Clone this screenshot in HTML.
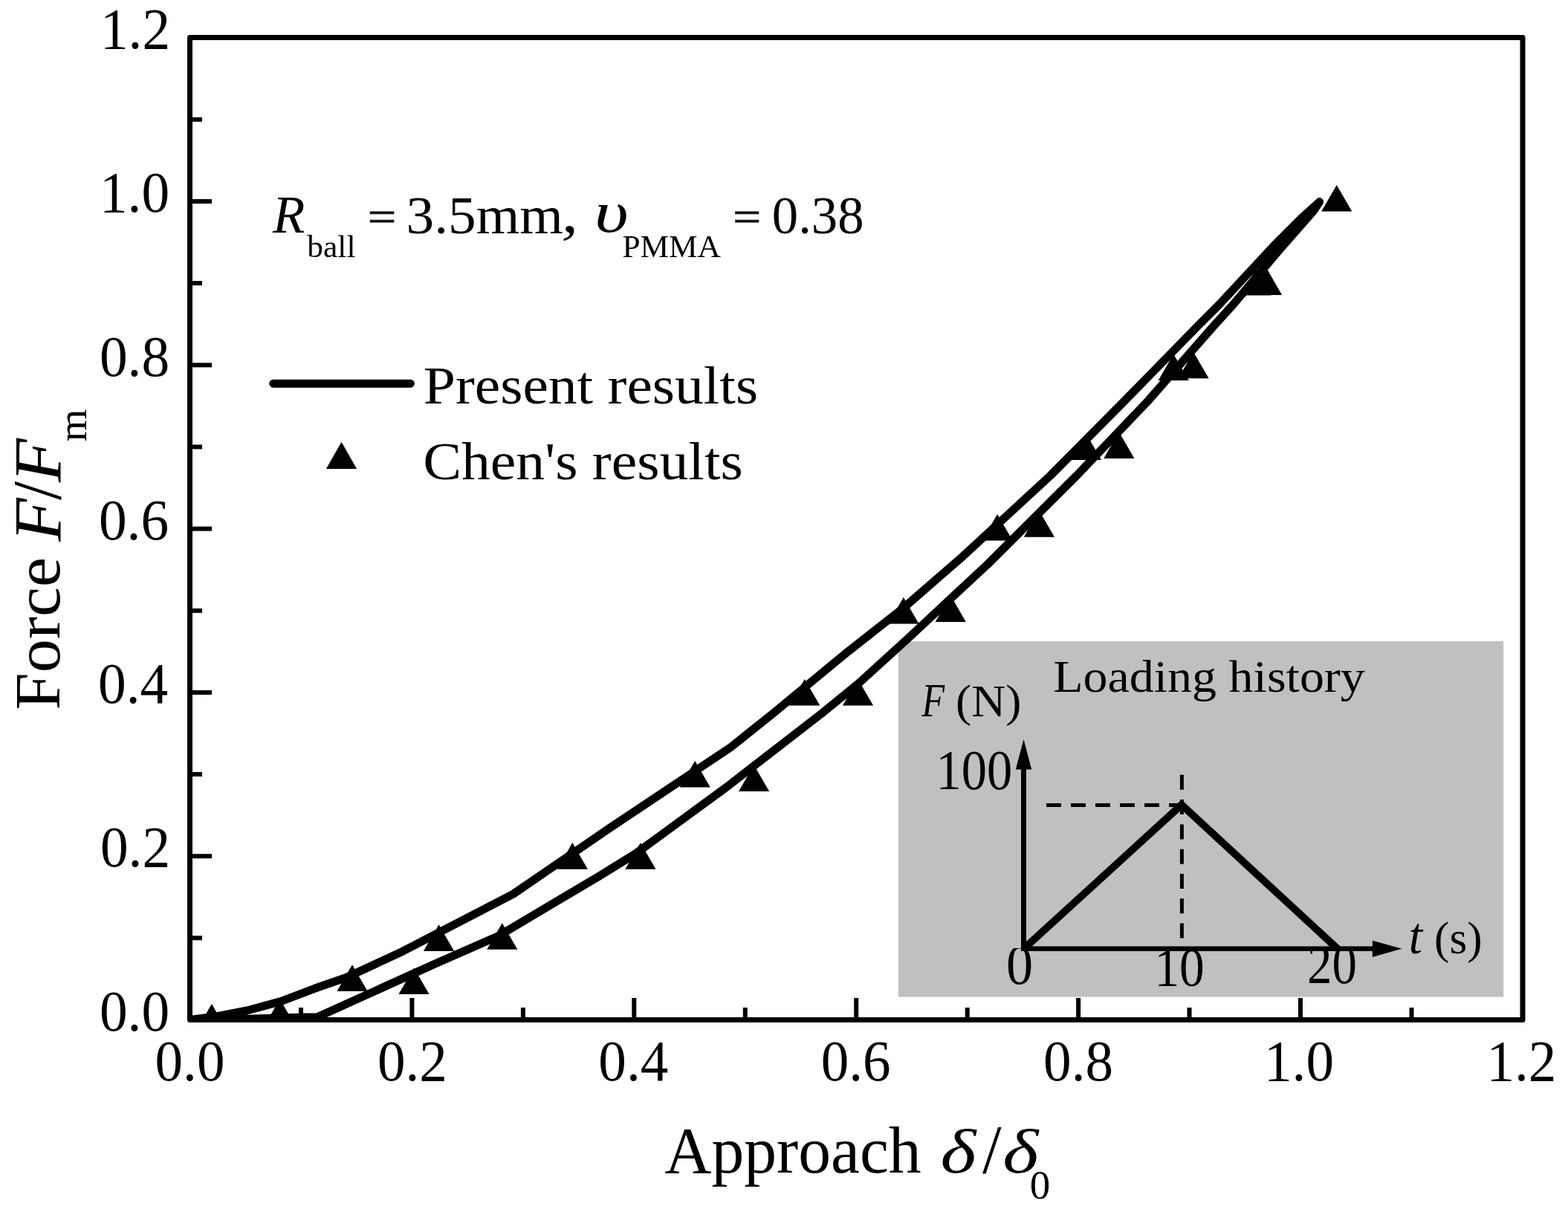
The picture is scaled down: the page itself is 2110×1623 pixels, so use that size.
<!DOCTYPE html>
<html><head><meta charset="utf-8"><title>Force vs Approach</title>
<style>html,body{margin:0;padding:0;background:#fff;}svg{display:block;}
text{font-family:"Liberation Serif", serif;fill:#000;}</style></head>
<body><svg width="2110" height="1623" viewBox="0 0 2110 1623">
<rect width="2110" height="1623" fill="#fff"/>
<rect x="1208.8" y="863" width="814.4" height="478.6" fill="#c0c0c0"/>
<defs><clipPath id="lc"><rect x="1200" y="1276" width="800" height="100"/></clipPath></defs><g clip-path="url(#lc)"><g transform="matrix(1.00333,0,0,1.04468,952.66,487.86)"><text x="400" y="800" font-size="72">0</text></g>
<g transform="matrix(0.93651,0,0,1.04255,1178.78,492.56)"><text x="400" y="800" font-size="72">10</text></g>
<g transform="matrix(0.93030,0,0,1.04255,1386.99,489.36)"><text x="400" y="800" font-size="72">20</text></g></g>
<g stroke="#000" fill="none">
<line x1="1408" y1="1083.5" x2="1590" y2="1083.5" stroke-width="5" stroke-dasharray="20 13"/>
<line x1="1590.4" y1="1042.8" x2="1590.4" y2="1277" stroke-width="5" stroke-dasharray="20 13.3"/>
<line x1="1377.5" y1="1035" x2="1377.5" y2="1280" stroke-width="7"/>
<line x1="1374" y1="1276.8" x2="1848" y2="1276.8" stroke-width="6.4"/>
<polyline points="1377.5,1277 1590,1083 1800,1277" stroke-width="10" stroke-linejoin="miter"/>
</g>
<polygon points="1377.5,995 1366.8,1035.5 1388.2,1035.5" fill="#000"/>
<polygon points="1886.5,1276.8 1846.8,1265.7 1846.8,1287.9" fill="#000"/>
<defs><clipPath id="pc"><rect x="255.5" y="50.5" width="1793.5" height="1322"/></clipPath></defs>
<g clip-path="url(#pc)">
<polyline points="255.5,1372.6 292.6,1367.6 332.4,1360.0 377.9,1347.6 423.4,1330.3 466.0,1315.5 542.0,1280.2 690.7,1203.1 820.0,1114.6 983.5,1005.5 1040.4,960.0 1141.5,876.6 1216.0,818.0 1295.0,749.3 1413.5,640.0 1512.8,540.0 1611.0,439.5 1640.5,410.0 1714.0,331.0 1751.0,293.9 1775.5,271.8" fill="none" stroke="#000" stroke-width="11" stroke-linejoin="round" stroke-linecap="round"/>
<polyline points="290.0,1372.5 400.0,1369.3 427.0,1368.8 584.5,1297.5 670.5,1259.7 804.8,1180.0 855.0,1149.0 899.0,1116.9 976.7,1060.0 1105.9,960.0 1155.0,920.0 1221.5,859.5 1328.4,760.0 1448.9,640.0 1544.4,540.0 1632.5,439.5 1659.3,410.0 1722.7,335.0 1745.0,309.7 1768.5,282.6 1775.5,271.8" fill="none" stroke="#000" stroke-width="11" stroke-linejoin="round" stroke-linecap="round"/>
<g fill="#000"><polygon points="284.9,1351.0 264.3,1386.6 305.5,1386.6"/><polygon points="474.0,1298.3 453.4,1333.9 494.6,1333.9"/><polygon points="590.5,1244.3 569.9,1279.9 611.1,1279.9"/><polygon points="770.3,1134.1 749.7,1169.7 790.9,1169.7"/><polygon points="935.2,1024.0 914.6,1059.6 955.8,1059.6"/><polygon points="1082.8,914.0 1062.2,949.6 1103.4,949.6"/><polygon points="1215.9,803.8 1195.3,839.4 1236.5,839.4"/><polygon points="1342.1,692.0 1321.5,727.6 1362.7,727.6"/><polygon points="1461.5,583.4 1440.9,619.0 1482.1,619.0"/><polygon points="1579.2,476.5 1558.6,512.1 1599.8,512.1"/><polygon points="1690.0,362.0 1669.4,397.6 1710.6,397.6"/><polygon points="1798.7,249.0 1778.1,284.6 1819.3,284.6"/><polygon points="376.6,1344.4 356.0,1380.0 397.2,1380.0"/><polygon points="557.0,1302.4 536.4,1338.0 577.6,1338.0"/><polygon points="675.8,1242.2 655.2,1277.8 696.4,1277.8"/><polygon points="861.9,1134.2 841.3,1169.8 882.5,1169.8"/><polygon points="1014.6,1029.5 994.0,1065.1 1035.2,1065.1"/><polygon points="1154.5,914.0 1133.9,949.6 1175.1,949.6"/><polygon points="1279.2,801.3 1258.6,836.9 1299.8,836.9"/><polygon points="1398.4,687.2 1377.8,722.8 1419.0,722.8"/><polygon points="1505.8,581.3 1485.2,616.9 1526.4,616.9"/><polygon points="1606.0,473.7 1585.4,509.3 1626.6,509.3"/><polygon points="1704.5,361.3 1683.9,396.9 1725.1,396.9"/></g>
</g>
<g stroke="#000" fill="none" stroke-linecap="butt">
<path d="M255.5,50.5 H2049 V1372.5 H255.5 Z" stroke-width="7" stroke-linejoin="round"/>
<line x1="405.0" y1="1372" x2="405.0" y2="1356" stroke-width="6"/>
<line x1="256" y1="1262.3" x2="272" y2="1262.3" stroke-width="6"/>
<line x1="554.4" y1="1372" x2="554.4" y2="1343" stroke-width="6"/>
<line x1="256" y1="1152.2" x2="285" y2="1152.2" stroke-width="6"/>
<line x1="703.9" y1="1372" x2="703.9" y2="1356" stroke-width="6"/>
<line x1="256" y1="1042.0" x2="272" y2="1042.0" stroke-width="6"/>
<line x1="853.3" y1="1372" x2="853.3" y2="1343" stroke-width="6"/>
<line x1="256" y1="931.9" x2="285" y2="931.9" stroke-width="6"/>
<line x1="1002.8" y1="1372" x2="1002.8" y2="1356" stroke-width="6"/>
<line x1="256" y1="821.8" x2="272" y2="821.8" stroke-width="6"/>
<line x1="1152.2" y1="1372" x2="1152.2" y2="1343" stroke-width="6"/>
<line x1="256" y1="711.6" x2="285" y2="711.6" stroke-width="6"/>
<line x1="1301.7" y1="1372" x2="1301.7" y2="1356" stroke-width="6"/>
<line x1="256" y1="601.4" x2="272" y2="601.4" stroke-width="6"/>
<line x1="1451.1" y1="1372" x2="1451.1" y2="1343" stroke-width="6"/>
<line x1="256" y1="491.3" x2="285" y2="491.3" stroke-width="6"/>
<line x1="1600.5" y1="1372" x2="1600.5" y2="1356" stroke-width="6"/>
<line x1="256" y1="381.1" x2="272" y2="381.1" stroke-width="6"/>
<line x1="1750.0" y1="1372" x2="1750.0" y2="1343" stroke-width="6"/>
<line x1="256" y1="271.0" x2="285" y2="271.0" stroke-width="6"/>
<line x1="1899.5" y1="1372" x2="1899.5" y2="1356" stroke-width="6"/>
<line x1="256" y1="160.8" x2="272" y2="160.8" stroke-width="6"/>
</g>
<line x1="367.7" y1="516.2" x2="552.3" y2="516.2" stroke="#000" stroke-width="11" stroke-linecap="round"/>
<polygon points="459.5,594.8 438.9,630.9 480.1,630.9" fill="#000"/>
<g>
<g transform="matrix(0.99213,0,0,1.01765,-262.93,572.66)"><text x="400" y="800" font-size="76">0.0</text></g>
<g transform="matrix(0.99213,0,0,1.01765,-261.94,352.36)"><text x="400" y="800" font-size="76">0.2</text></g>
<g transform="matrix(0.99213,0,0,1.01765,-264.91,132.06)"><text x="400" y="800" font-size="76">0.4</text></g>
<g transform="matrix(0.99213,0,0,1.01765,-263.92,-88.24)"><text x="400" y="800" font-size="76">0.6</text></g>
<g transform="matrix(0.99213,0,0,1.01765,-262.93,-308.54)"><text x="400" y="800" font-size="76">0.8</text></g>
<g transform="matrix(0.99213,0,0,1.01765,-262.93,-528.84)"><text x="400" y="800" font-size="76">1.0</text></g>
<g transform="matrix(0.99213,0,0,1.01765,-261.94,-749.14)"><text x="400" y="800" font-size="76">1.2</text></g>
<g transform="matrix(0.98876,0,0,1.02549,-186.97,633.78)"><text x="400" y="800" font-size="76">0.0</text></g>
<g transform="matrix(0.98876,0,0,1.02549,112.42,633.78)"><text x="400" y="800" font-size="76">0.2</text></g>
<g transform="matrix(0.98876,0,0,1.02549,409.84,633.78)"><text x="400" y="800" font-size="76">0.4</text></g>
<g transform="matrix(0.98876,0,0,1.02549,709.23,633.78)"><text x="400" y="800" font-size="76">0.6</text></g>
<g transform="matrix(0.98876,0,0,1.02549,1008.63,633.78)"><text x="400" y="800" font-size="76">0.8</text></g>
<g transform="matrix(0.98876,0,0,1.02549,1305.55,633.78)"><text x="400" y="800" font-size="76">1.0</text></g>
<g transform="matrix(0.98876,0,0,1.02549,1604.94,633.78)"><text x="400" y="800" font-size="76">1.2</text></g>
<g transform="matrix(0.96275,0,0,0.98254,509.14,791.77)"><text x="400" y="800" font-size="91">Approach</text></g>
<g transform="matrix(1.13000,0,0,0.93538,813.51,829.46)"><text x="400" y="800" font-size="91" font-style="italic">δ</text></g>
<g transform="matrix(1.00800,0,0,1.02951,918.70,754.06)"><text x="400" y="800" font-size="91">/</text></g>
<g transform="matrix(1.13500,0,0,0.93538,895.30,829.46)"><text x="400" y="800" font-size="91" font-style="italic">δ</text></g>
<g transform="matrix(1.01739,0,0,0.99722,978.81,815.02)"><text x="400" y="800" font-size="54">0</text></g>
<g transform="matrix(0.96393,0,0,1.00377,-305.74,152.50)"><text x="0" y="0" font-size="90" transform="translate(400,800) rotate(-90)">Force</text></g>
<g transform="matrix(1.00169,0,0,1.06429,-318.48,-122.73)"><text x="0" y="0" font-size="90" font-style="italic" transform="translate(400,800) rotate(-90)">F</text></g>
<g transform="matrix(1.03607,0,0,1.00800,-333.36,-133.40)"><text x="0" y="0" font-size="90" transform="translate(400,800) rotate(-90)">/</text></g>
<g transform="matrix(1.00169,0,0,1.07143,-318.48,-208.14)"><text x="0" y="0" font-size="90" font-style="italic" transform="translate(400,800) rotate(-90)">F</text></g>
<g transform="matrix(1.02000,0,0,1.03750,-291.80,-235.76)"><text x="0" y="0" font-size="54" transform="translate(400,800) rotate(-90)">m</text></g>
<g transform="matrix(0.99762,0,0,0.99787,-31.95,-485.30)"><text x="400" y="800" font-size="71" font-style="italic">R</text></g>
<g transform="matrix(1.01094,0,0,0.98667,8.93,-443.33)"><text x="400" y="800" font-size="43">ball</text></g>
<g transform="matrix(0.95000,0,0,0.80556,115.05,-332.96)"><text x="400" y="800" font-size="71" stroke="#000" stroke-width="1.2">=</text></g>
<g transform="matrix(1.06051,0,0,1.01915,122.41,-501.72)"><text x="400" y="800" font-size="71">3.5mm</text></g>
<g transform="matrix(1.27273,0,0,1.11111,246.36,-577.11)"><text x="400" y="800" font-size="71" font-style="italic">,</text></g>
<g transform="matrix(1.40370,0,0,1.10571,238.61,-572.08)"><text x="400" y="800" font-size="71" font-style="italic">υ</text></g>
<g transform="matrix(1.00846,0,0,0.98929,434.01,-445.43)"><text x="400" y="800" font-size="43">PMMA</text></g>
<g transform="matrix(0.93529,0,0,0.80556,612.28,-332.96)"><text x="400" y="800" font-size="71" stroke="#000" stroke-width="1.2">=</text></g>
<g transform="matrix(0.99576,0,0,1.01915,640.51,-501.72)"><text x="400" y="800" font-size="71">0.38</text></g>
<g transform="matrix(1.07748,0,0,0.99600,138.85,-253.90)"><text x="400" y="800" font-size="72">Present results</text></g>
<g transform="matrix(1.07939,0,0,1.00000,137.41,-154.80)"><text x="400" y="800" font-size="72">Chen&#39;s results</text></g>
<g transform="matrix(1.06403,0,0,0.99767,991.66,132.46)"><text x="400" y="800" font-size="62">Loading history</text></g>
<g transform="matrix(0.80789,0,0,1.01750,917.34,149.80)"><text x="400" y="800" font-size="62" font-style="italic">F</text></g>
<g transform="matrix(1.02625,0,0,0.98810,875.62,173.72)"><text x="400" y="800" font-size="62">(N)</text></g>
<g transform="matrix(0.95152,0,0,1.04894,878.78,223.25)"><text x="400" y="800" font-size="72">100</text></g>
<g transform="matrix(1.06000,0,0,1.11765,1471.82,388.78)"><text x="400" y="800" font-size="62" font-style="italic">t</text></g>
<g transform="matrix(0.98500,0,0,1.00238,1536.05,481.30)"><text x="400" y="800" font-size="62">(s)</text></g>
</g>
</svg></body></html>
